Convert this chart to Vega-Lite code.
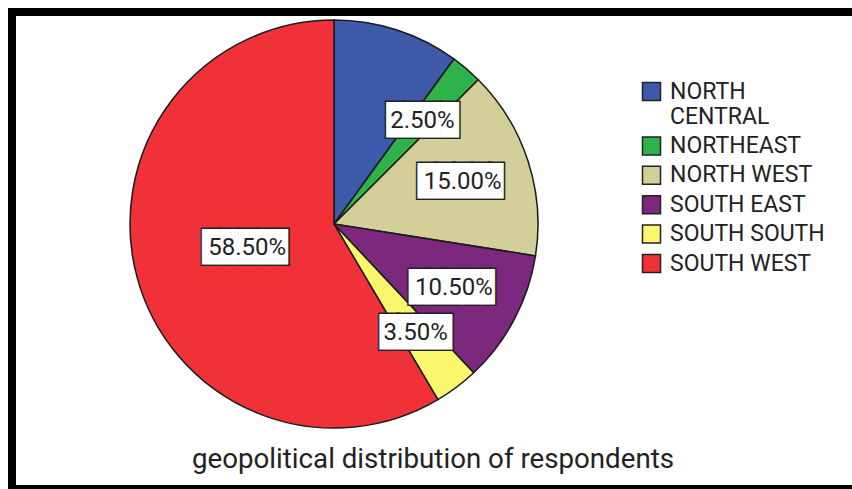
{
  "$schema": "https://vega.github.io/schema/vega-lite/v6.json",
  "background": "white",
  "padding": {"left": 6, "top": 6, "right": -4, "bottom": -2},
  "datasets": {
    "regions": [
      {"region": "NORTH CENTRAL", "pct": 0.1, "k": 1},
      {"region": "NORTHEAST", "pct": 0.025, "k": 2},
      {"region": "NORTH WEST", "pct": 0.15, "k": 3},
      {"region": "SOUTH EAST", "pct": 0.105, "k": 4},
      {"region": "SOUTH SOUTH", "pct": 0.035, "k": 5},
      {"region": "SOUTH WEST", "pct": 0.585, "k": 6}
    ],
    "caption": [{"text": "geopolitical distribution of respondents"}]
  },
  "config": {
    "view": {"stroke": null},
    "legend": {
      "orient": "none",
      "legendX": 628,
      "legendY": 68,
      "padding": 0,
      "symbolType": "square",
      "symbolSize": 324,
      "symbolStrokeColor": "#222222",
      "symbolStrokeWidth": 1.5,
      "labelFont": "Roboto",
      "labelFontSize": 23,
      "labelColor": "#222222",
      "labelOffset": 7,
      "rowPadding": 4.4,
      "labelLimit": 300
    }
  },
  "spacing": -16,
  "vconcat": [
    {
      "spacing": 0,
      "bounds": "flush",
      "hconcat": [
        {
          "width": 644,
          "height": 424,
          "data": {"name": "regions"},
          "view": {"stroke": "black", "strokeWidth": 8, "strokeCap": "square", "strokeDash": [644, 1068, 424]},
          "encoding": {
            "theta": {"field": "pct", "type": "quantitative", "stack": true},
            "order": {"field": "k", "type": "quantitative"}
          },
          "layer": [
            {
              "mark": {"type": "arc", "outerRadius": 204, "stroke": "#1a1a1a", "strokeWidth": 1.5},
              "encoding": {
                "color": {
                  "field": "region",
                  "type": "nominal",
                  "scale": {
                    "domain": ["NORTH CENTRAL", "NORTHEAST", "NORTH WEST", "SOUTH EAST", "SOUTH SOUTH", "SOUTH WEST"],
                    "range": ["#3e58aa", "#2db34a", "#d4ce98", "#7c287e", "#faf66e", "#f03238"]
                  },
                  "legend": {
                    "title": null,
                    "labelExpr": "datum.label == 'NORTH CENTRAL' ? ['NORTH', 'CENTRAL'] : datum.label"
                  }
                }
              }
            },
            {
              "mark": {"type": "text", "font": "DejaVu Sans Mono", "fontSize": 30, "fill": "#222222", "stroke": "#222222", "strokeWidth": 3, "align": "center", "baseline": "middle"},
              "encoding": {
                "detail": {"field": "region", "type": "nominal"},
                "radius": {"field": "pct", "type": "quantitative", "scale": {"type": "pow", "exponent": 3, "domain": [0.025, 0.585], "range": [136, 90], "zero": false}},
                "text": {"condition": {"test": "datum.pct >= 0.1", "value": "████▊"}, "value": "████"},
                "opacity": {"condition": {"test": "datum.region == 'NORTH CENTRAL'", "value": 0}, "value": 1}
              }
            },
            {
              "mark": {"type": "text", "font": "DejaVu Sans Mono", "fontSize": 30, "fill": "white", "align": "center", "baseline": "middle"},
              "encoding": {
                "detail": {"field": "region", "type": "nominal"},
                "radius": {"field": "pct", "type": "quantitative"},
                "text": {"condition": {"test": "datum.pct >= 0.1", "value": "████▊"}, "value": "████"},
                "opacity": {"condition": {"test": "datum.region == 'NORTH CENTRAL'", "value": 0}, "value": 1}
              }
            },
            {
              "mark": {"type": "text", "font": "Roboto", "fontSize": 24, "fill": "#222222", "align": "center", "baseline": "middle"},
              "encoding": {
                "detail": {"field": "region", "type": "nominal"},
                "radius": {"field": "pct", "type": "quantitative"},
                "text": {"field": "pct", "type": "quantitative", "format": ".2%"},
                "opacity": {"condition": {"test": "datum.region == 'NORTH CENTRAL'", "value": 0}, "value": 1}
              }
            }
          ]
        },
        {
          "width": 198,
          "height": 424,
          "data": {"name": "caption"},
          "view": {"stroke": "black", "strokeWidth": 8, "strokeCap": "square", "strokeDash": [198, 2000]},
          "mark": {"type": "text", "opacity": 0},
          "encoding": {"text": {"value": " "}}
        }
      ]
    },
    {
      "width": 842,
      "height": 47,
      "data": {"name": "caption"},
      "view": {"stroke": "black", "strokeWidth": 8, "strokeCap": "square", "strokeDash": [0, 893, 885]},
      "mark": {"type": "text", "font": "Roboto", "fontSize": 27.7, "fill": "#222222", "align": "center", "baseline": "middle", "dy": -6},
      "encoding": {"text": {"field": "text", "type": "nominal"}}
    }
  ]
}
